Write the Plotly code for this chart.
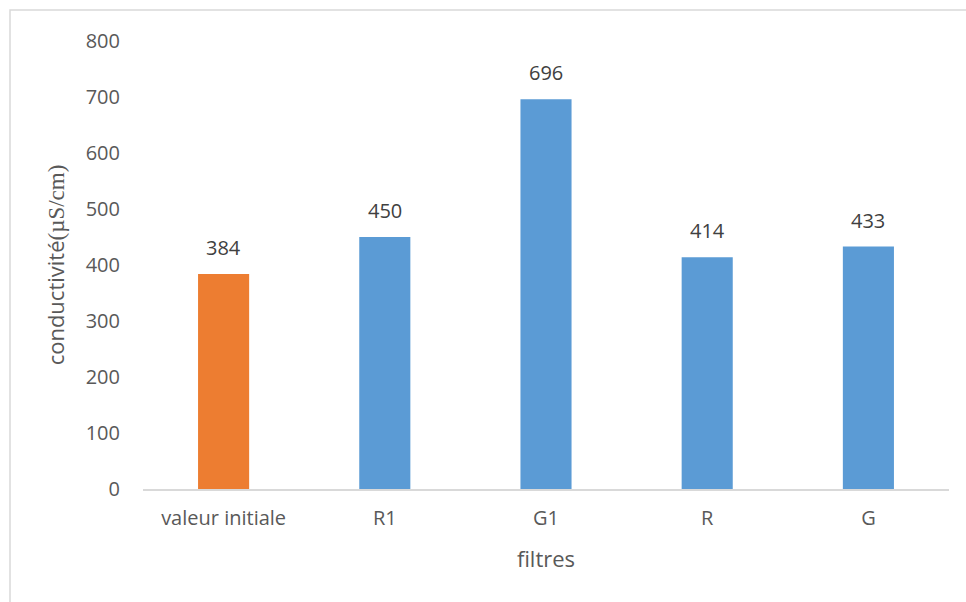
import plotly.graph_objects as go

categories = ["valeur initiale", "R1", "G1", "R", "G"]
values = [384, 450, 696, 414, 433]
colors = ["#ED7D31", "#5B9BD5", "#5B9BD5", "#5B9BD5", "#5B9BD5"]
y_ticks = [0, 100, 200, 300, 400, 500, 600, 700, 800]

FONT = "Open Sans"

fig = go.Figure(
    go.Bar(
        x=categories,
        y=values,
        marker=dict(color=colors, line=dict(width=0)),
        showlegend=False,
    )
)

# value labels above each bar
for c, v in zip(categories, values):
    fig.add_annotation(
        x=c, y=v, text=str(v), showarrow=False,
        yanchor="bottom", yshift=11,
        font=dict(family=FONT, size=20, color="#404040"),
    )

# light frame around the chart area
fig.add_shape(
    type="rect", xref="paper", yref="paper",
    x0=-0.165, x1=1.2, y0=-0.6, y1=1.069,
    line=dict(color="#d9d9d9", width=1.5), fillcolor="rgba(0,0,0,0)",
    layer="below",
)

fig.update_layout(
    width=966, height=602,
    margin=dict(l=143, r=17, t=41, b=113),
    paper_bgcolor="white", plot_bgcolor="white",
    bargap=0.683,
    xaxis=dict(
        showgrid=False, showline=True, linecolor="#d9d9d9", linewidth=1.5,
        ticks="", ticklabelstandoff=10,
        tickfont=dict(family=FONT, size=20, color="#595959"),
        title=dict(text="filtres", font=dict(family=FONT, size=22, color="#595959"), standoff=22),
    ),
    yaxis=dict(
        range=[0, 800], tickvals=y_ticks, showgrid=False, zeroline=False,
        showline=False, ticks="", ticklabelstandoff=22,
        tickfont=dict(family=FONT, size=20, color="#595959"),
        title=dict(
            text='conductivité<span style="font-family:Liberation Serif;font-size:23px">(µS/cm)</span>',
            font=dict(family=FONT, size=22, color="#595959"), standoff=14,
        ),
    ),
)

fig.write_html("out.html")
